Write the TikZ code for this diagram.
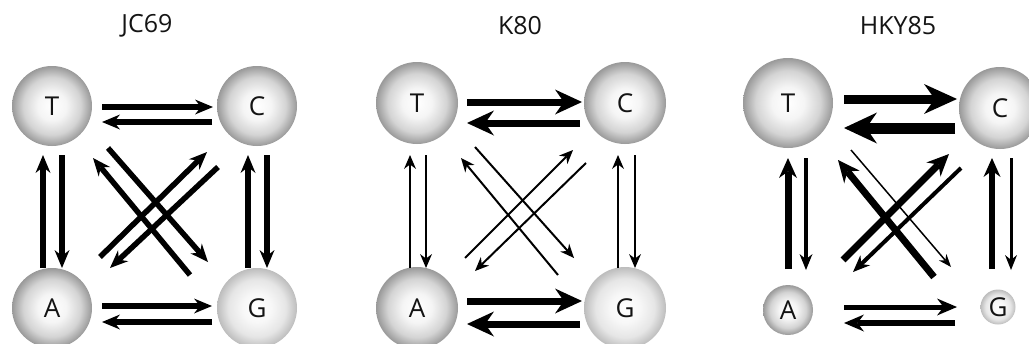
\documentclass[tikz,border=0pt]{standalone}
\usepackage{fontspec}
\setmainfont{Open Sans}
\usetikzlibrary{calc,arrows.meta,positioning}
\pgfdeclareradialshading{nucball}{\pgfpoint{0bp}{0bp}}{color(0bp)=(black!0); color(9bp)=(black!4); color(18bp)=(black!17); color(25bp)=(black!40); color(50bp)=(black!40)}
\pgfdeclareradialshading{nucpale}{\pgfpoint{0bp}{0bp}}{color(0bp)=(black!0); color(9bp)=(black!3); color(18bp)=(black!10); color(25bp)=(black!26); color(50bp)=(black!26)}
\tikzset{
    base/.style={
    circle,shade,shading=nucball,inner sep=0pt,minimum size=#1,font=\fontsize{26}{30}\selectfont,text=black!92
    },
    pale/.style={
    base=#1,shading=nucpale
    },
    model/.style={
    font=\fontsize{25}{30}\selectfont,text=black!92
    },
    rate/.style n args={3}{
    line width=#1,-{Stealth[length=#2,width=#3,line width=0pt]}
    },
    jc/.style={
    rate={5.5pt}{18pt}{15pt}
    },
    fast/.style={
    rate={7pt}{27pt}{25pt}
    },
    slow/.style={
    rate={2pt}{14pt}{12pt}
    },
}

\begin{document}
\begin{tikzpicture}[x=1pt, y=-1pt, on grid]
   \useasboundingbox (0,0) rectangle (1029,343);

   % JC69
   \node[model] (m1) at (147,26) {JC69};
   \node[base=80pt] (T1) at (52,106) {T};
   \node[base=80pt,right=205pt of T1] (C1) {C};
   \node[base=80pt,below=202pt of T1] (A1) {A};
   \node[pale=80pt,right=205pt of A1] (G1) {G};

   \draw[jc] ($(T1)+(50,1)$) -- ($(C1)+(-44,1)$);
   \draw[jc] ($(C1)+(-45,16)$) -- ($(T1)+(50,16)$);
   \draw[jc] ($(A1)+(50,-2)$) -- ($(G1)+(-45,-2)$);
   \draw[jc] ($(G1)+(-45,14)$) -- ($(A1)+(50,14)$);
   \draw[jc] ($(A1)+(-9,-40)$) -- ($(T1)+(-9,49)$);
   \draw[jc] ($(T1)+(10,49)$) -- ($(A1)+(10,-40)$);
   \draw[jc] ($(G1)+(-9,-40)$) -- ($(C1)+(-9,49)$);
   \draw[jc] ($(C1)+(10,49)$) -- ($(G1)+(10,-40)$);
   \draw[jc] ($(A1)+(48,-51)$) -- ($(C1)+(-50,46)$);
   \draw[jc] ($(C1)+(-39,61)$) -- ($(A1)+(58,-40)$);
   \draw[jc] ($(T1)+(56,42)$) -- ($(G1)+(-49,-46)$);
   \draw[jc] ($(G1)+(-67,-33)$) -- ($(T1)+(41,52)$);

   % K80
   \node[model] (m2) at (520,26) {K80};
   \node[base=82pt] (T2) at (417,103) {T};
   \node[base=82pt,right=208pt of T2] (C2) {C};
   \node[base=82pt,below=205pt of T2] (A2) {A};
   \node[pale=82pt,right=208pt of A2] (G2) {G};

   \draw[fast] ($(T2)+(50,-1)$) -- ($(C2)+(-43,-1)$);
   \draw[fast] ($(C2)+(-45,20)$) -- ($(T2)+(50,20)$);
   \draw[fast] ($(A2)+(50,-7)$) -- ($(G2)+(-43,-7)$);
   \draw[fast] ($(G2)+(-45,16)$) -- ($(A2)+(50,16)$);
   \draw[slow] ($(A2)+(-7,-40)$) -- ($(T2)+(-7,52)$);
   \draw[slow] ($(T2)+(9,52)$) -- ($(A2)+(9,-40)$);
   \draw[slow] ($(G2)+(-7,-40)$) -- ($(C2)+(-7,52)$);
   \draw[slow] ($(C2)+(10,52)$) -- ($(G2)+(10,-40)$);
   \draw[slow] ($(G2)+(-67,-33)$) -- ($(T2)+(44,55)$);
   \draw[slow] ($(T2)+(58,44)$) -- ($(G2)+(-51,-50)$);
   \draw[slow] ($(A2)+(48,-50)$) -- ($(C2)+(-52,47)$);
   \draw[slow] ($(C2)+(-39,60)$) -- ($(A2)+(58,-37)$);

   % HKY85
   \node[model] (m3) at (898,26) {HKY85};
   \node[base=90pt] (T3) at (788,103) {T};
   \node[base=82pt] (C3) at (1000,108) {C};
   \node[base=50pt] (A3) at (788,310) {A};
   \node[pale=35pt] (G3) at (998,307) {G};

   \draw[rate={9pt}{33pt}{30pt}] ($(T3)+(56,-4)$) -- ($(C3)+(-43,-9)$);
   \draw[rate={11pt}{33pt}{31pt}] ($(C3)+(-45,20)$) -- ($(T3)+(56,25)$);
   \draw[rate={5pt}{20pt}{17pt}] ($(A3)+(56,-3)$) -- ($(G3)+(-41,0)$);
   \draw[rate={5.5pt}{20pt}{17pt}] ($(G3)+(-43,16)$) -- ($(A3)+(56,13)$);
   \draw[rate={7pt}{20pt}{18pt}] ($(A3)+(0,-41)$) -- ($(T3)+(0,55)$);
   \draw[rate={3.5pt}{16pt}{13pt}] ($(T3)+(18,55)$) -- ($(A3)+(18,-40)$);
   \draw[rate={6pt}{19pt}{17pt}] ($(G3)+(-6,-38)$) -- ($(C3)+(-8,50)$);
   \draw[rate={3pt}{15pt}{12pt}] ($(C3)+(11,50)$) -- ($(G3)+(13,-37)$);
   \draw[rate={7pt}{22pt}{20pt}] ($(G3)+(-64,-30)$) -- ($(T3)+(50,57)$);
   \draw[rate={1.5pt}{13pt}{10pt}] ($(T3)+(63,47)$) -- ($(G3)+(-47,-40)$);
   \draw[rate={7pt}{22pt}{20pt}] ($(A3)+(55,-50)$) -- ($(C3)+(-51,46)$);
   \draw[rate={4pt}{17pt}{14pt}] ($(C3)+(-39,60)$) -- ($(A3)+(65,-38)$);
\end{tikzpicture}
\end{document}
